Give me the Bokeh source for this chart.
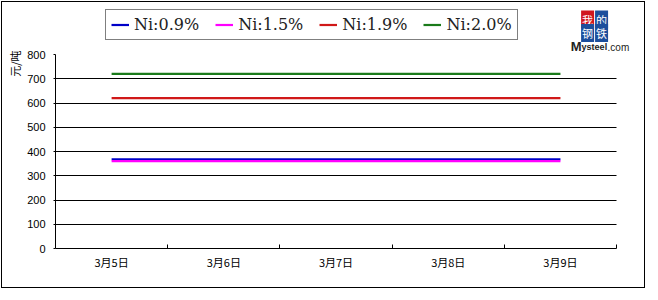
from bokeh.plotting import figure
from bokeh.models import (FixedTicker, Legend, LegendItem, Label, Title,
                          ColumnDataSource, Range1d)
from bokeh.embed import file_html
from bokeh.resources import INLINE

dates = ["3月5日", "3月6日", "3月7日", "3月8日", "3月9日"]
ni_09 = [368, 368, 368, 368, 368]
ni_15 = [360, 360, 360, 360, 360]
ni_19 = [620, 620, 620, 620, 620]
ni_20 = [720, 720, 720, 720, 720]
series_names = ["Ni:0.9%", "Ni:1.5%", "Ni:1.9%", "Ni:2.0%"]
y_ticks = [0, 100, 200, 300, 400, 500, 600, 700, 800]
y_unit = "元/吨"

colors = ["#0000C8", "#FF00FF", "#D01818", "#1A7A1A"]

xpos = [i + 0.5 for i in range(len(dates))]
n = len(dates)

# pixel scale of the plot area (page px): x 53..615, y 54..248
PX_X = (615 - 53) / n
PX_Y = (248 - 54) / y_ticks[-1]

p = figure(width=644, height=287, output_backend="svg", toolbar_location=None,
           x_range=Range1d(0, (645 - 53) / PX_X), y_range=Range1d(0, (248 - 2) / PX_Y),
           min_border_left=51, min_border_right=0, min_border_top=0,
           min_border_bottom=41)
p.styles = {"border": "1px solid black", "margin-left": "1px", "margin-top": "1px"}
p.outline_line_color = None
p.background_fill_color = "white"
p.border_fill_color = "white"

# grid
p.xgrid.visible = False
p.ygrid.ticker = FixedTicker(ticks=y_ticks[1:-1])
p.ygrid.grid_line_color = "black"
p.ygrid.grid_line_width = 1
try:
    p.ygrid.cross_bounds = (0, n)
except Exception:
    p.ygrid.visible = False
    gy = y_ticks[1:-1]
    p.segment(x0=[0] * len(gy), x1=[n] * len(gy), y0=gy, y1=gy, line_color="black", line_width=1)

renderers = []
for vals, c in zip([ni_09, ni_15, ni_19, ni_20], colors):
    src = ColumnDataSource(dict(x=xpos, y=vals))
    r = p.line("x", "y", source=src, line_color=c, line_width=2.2)
    renderers.append(r)

# axes
p.xaxis.bounds = (0, n)
p.xaxis.ticker = FixedTicker(ticks=xpos, minor_ticks=list(range(1, n + 1)))
p.xaxis.major_label_overrides = {x: d for x, d in zip(xpos, dates)}
p.xaxis.major_tick_in = 0
p.xaxis.major_tick_out = 0
p.xaxis.minor_tick_in = 4
p.xaxis.minor_tick_out = 0
p.xaxis.minor_tick_line_color = "black"
p.xaxis.axis_line_color = "black"
p.xaxis.major_label_standoff = 5
p.xaxis.major_label_text_font = "Noto Sans CJK SC"
p.xaxis.major_label_text_font_size = "11px"
p.xaxis.major_label_text_color = "black"

p.yaxis.bounds = (0, y_ticks[-1])
p.yaxis.ticker = FixedTicker(ticks=y_ticks)
p.yaxis.major_tick_in = 0
p.yaxis.major_tick_out = 2
p.yaxis.minor_tick_line_color = None
p.yaxis.axis_line_color = "black"
p.yaxis.major_label_standoff = 8
p.yaxis.major_label_text_font = "Liberation Sans"
p.yaxis.major_label_text_font_size = "11px"
p.yaxis.major_label_text_color = "black"

# y unit label as a left-side title
p.add_layout(Title(text=y_unit, align="right", offset=48, text_font="Noto Sans CJK SC",
                   text_font_size="11px", text_font_style="normal", text_color="black",
                   standoff=4), "left")

# legend
legend = Legend(items=[LegendItem(label=s, renderers=[r]) for s, r in zip(series_names, renderers)],
                orientation="horizontal", location=(50, 208))
legend.label_text_font = "DejaVu Serif"
legend.label_text_font_size = "16px"
legend.label_text_color = "#222222"
legend.glyph_width = 18
legend.glyph_height = 13
legend.label_standoff = 5
legend.spacing = 16
legend.padding = 5
legend.margin = 0
legend.border_line_color = "black"
legend.border_line_width = 1
legend.background_fill_alpha = 1
p.add_layout(legend, "center")

# logo
def px2x(px):
    return (px - 53) / PX_X

def py2y(py):
    return (248 - py) / PX_Y

for ch, cx, cy, bg in [("我", 586, 19, "#D0161E"), ("的", 600, 19, "#1C4E9C"),
                       ("钢", 586, 32.5, "#1C4E9C"), ("铁", 600, 32.5, "#1C4E9C")]:
    p.add_layout(Label(x=px2x(cx), y=py2y(cy), text=ch, text_font="Noto Sans CJK SC",
                       text_font_size="11px", text_color="white", text_align="center",
                       text_baseline="middle", background_fill_color=bg, padding=1))
p.add_layout(Label(x=px2x(569), y=py2y(45.5), text="M", text_font="Liberation Sans",
                   text_font_size="13px", text_font_style="bold", text_color="#222222",
                   text_align="left", text_baseline="middle"))
p.add_layout(Label(x=px2x(580), y=py2y(46.5), text="ysteel", text_font="Liberation Sans",
                   text_font_size="9px", text_font_style="bold", text_color="#222222",
                   text_align="left", text_baseline="middle"))
p.add_layout(Label(x=px2x(606), y=py2y(46.5), text=".com", text_font="Liberation Sans",
                   text_font_size="10px", text_color="#222222",
                   text_align="left", text_baseline="middle"))

open("out.html", "w").write(file_html(p, INLINE))
